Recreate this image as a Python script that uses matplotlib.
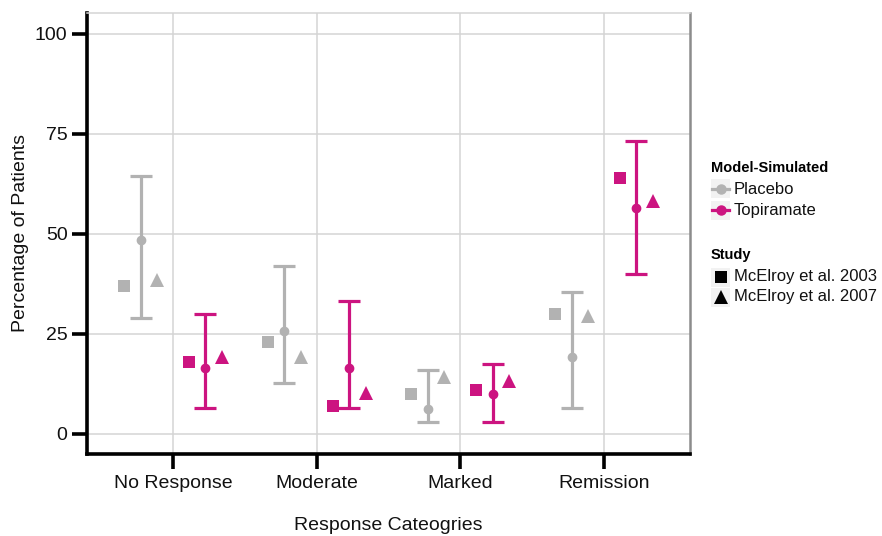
import matplotlib
matplotlib.use("Agg")
import matplotlib.pyplot as plt
from matplotlib.lines import Line2D
from matplotlib.patches import Rectangle
import numpy as np

plt.rcParams['font.family'] = ['Liberation Sans', 'DejaVu Sans']

categories = ["No Response", "Moderate", "Marked", "Remission"]
placebo_mean = [48.4, 25.8, 6.3, 19.3]
placebo_lo = [28.9, 12.8, 3.1, 6.4]
placebo_hi = [64.6, 41.9, 16.0, 35.4]
topi_mean = [16.6, 16.6, 10.0, 56.6]
topi_lo = [6.6, 6.6, 3.1, 39.9]
topi_hi = [30.0, 33.3, 17.5, 73.3]
placebo_2003 = [37.0, 23.0, 9.9, 30.0]
placebo_2007 = [38.4, 19.3, 14.2, 29.5]
topi_2003 = [18.1, 7.0, 11.0, 63.9]
topi_2007 = [19.3, 10.2, 13.3, 58.3]
yticks = [0, 25, 50, 75, 100]

GRAY = "#B2B2B2"
MAG = "#CC1480"

W, H = 882, 536
fig = plt.figure(figsize=(W / 100, H / 100), dpi=100)
ax = fig.add_axes([87 / W, 1 - 454 / H, (690 - 87) / W, (454 - 13) / H])

x = np.arange(1, len(categories) + 1)
dodge = 0.225
side = 0.115

for vals_m, lo, hi, s03, s07, col, off in [
    (placebo_mean, placebo_lo, placebo_hi, placebo_2003, placebo_2007, GRAY, -dodge),
    (topi_mean, topi_lo, topi_hi, topi_2003, topi_2007, MAG, dodge),
]:
    m = np.array(vals_m)
    yerr = [m - np.array(lo), np.array(hi) - m]
    ax.errorbar(x + off, m, yerr=yerr, fmt='o', color=col, ms=6, lw=2.3,
                capsize=7.6, capthick=2.3, zorder=3)
    ax.plot(x + off - side, s03, 's', color=col, ms=8, mew=0, zorder=3)
    ax.plot(x + off + side, s07, '^', color=col, ms=10, mew=0, zorder=3)

ax.set_xlim(0.4, 4.6)
ax.set_ylim(-5, 105.25)
ax.set_xticks(x)
ax.set_xticklabels(categories)
ax.set_yticks(yticks)
ax.grid(True, color="#D4D4D4", lw=1.1)
ax.set_axisbelow(True)

for s in ['left', 'bottom']:
    ax.spines[s].set_linewidth(2.6)
    ax.spines[s].set_color('black')
ax.spines['top'].set_color('#D4D4D4')
ax.spines['top'].set_linewidth(1.1)
ax.spines['right'].set_color('#8C8C8C')
ax.spines['right'].set_linewidth(1.8)

ax.tick_params(axis='both', length=11, width=2.6, color='black',
               labelsize=14, labelcolor='#111111')
ax.tick_params(axis='y', pad=3)
ax.tick_params(axis='x', pad=4)

ax.set_xlabel("Response Cateogries", fontsize=14, labelpad=18, color='#111111')
ax.set_ylabel("Percentage of Patients", fontsize=14, labelpad=4, color='#111111')

# Legend (drawn manually in figure coordinates)
def fy(py):
    return 1 - py / H

def fx(px):
    return px / W

fig.text(fx(711), fy(168), "Model-Simulated", fontsize=10.5, fontweight='bold',
         va='center', ha='left')
fig.text(fx(711), fy(255), "Study", fontsize=10.5, fontweight='bold',
         va='center', ha='left')

keys = [
    (189, "Placebo", dict(marker='o', color=GRAY, ls='-', lw=2.3, ms=6.5)),
    (210, "Topiramate", dict(marker='o', color=MAG, ls='-', lw=2.3, ms=6.5)),
    (277, "McElroy et al. 2003", dict(marker='s', color='black', ls='none', ms=8)),
    (297, "McElroy et al. 2007", dict(marker='^', color='black', ls='none', ms=10)),
]
for py, label, style in keys:
    fig.add_artist(Rectangle((fx(711), fy(py + 9.5)), 19 / W, 19 / H,
                             transform=fig.transFigure, facecolor='#F2F2F2',
                             edgecolor='none'))
    if style.get('ls') == '-':
        fig.add_artist(Line2D([fx(712), fx(729)], [fy(py), fy(py)],
                              transform=fig.transFigure, color=style['color'],
                              lw=style['lw']))
        fig.add_artist(Line2D([fx(720.5)], [fy(py)], transform=fig.transFigure,
                              marker='o', color=style['color'], ms=style['ms'],
                              ls='none'))
    else:
        fig.add_artist(Line2D([fx(720.5)], [fy(py)], transform=fig.transFigure,
                              marker=style['marker'], color='black',
                              ms=style['ms'], ls='none', mew=0))
    fig.text(fx(734), fy(py), label, fontsize=12, va='center', ha='left',
             color='#111111')

fig.savefig("out.png", dpi=100)
